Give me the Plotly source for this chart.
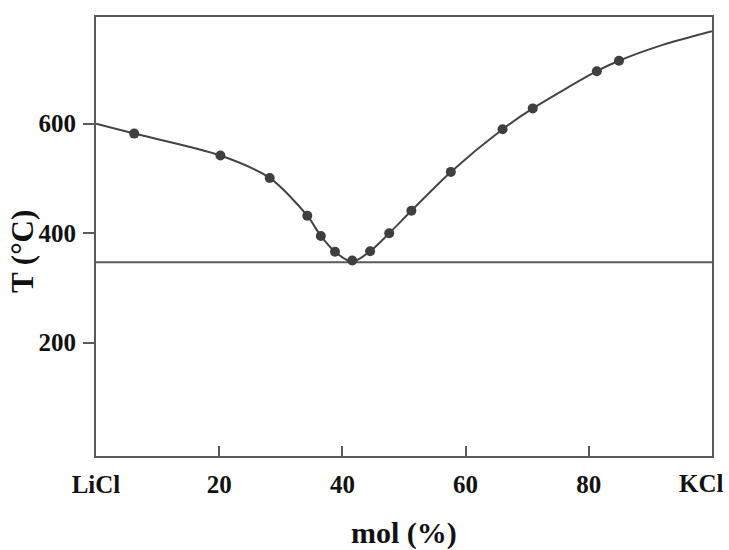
import plotly.graph_objects as go

# Measured liquidus points (mol % KCl, T in °C)
pts_x = [6.2, 20.2, 28.2, 34.3, 36.5, 38.8, 41.6, 44.5, 47.6, 51.2, 57.6, 66.0, 70.9, 81.3, 84.9]
pts_y = [582, 542, 501, 432, 395, 366, 350, 367, 400, 441, 512, 590, 628, 696, 715]

# Liquidus curve
curve_x = [0, 6.2, 20.2, 28.2, 34.3, 36.5, 38.8, 41.6, 44.5, 47.6, 51.2, 57.6, 66.0, 70.9, 81.3, 84.9, 92, 100]
curve_y = [600, 582, 542, 501, 432, 395, 366, 348, 367, 400, 441, 512, 590, 628, 696, 715, 744, 769]

# Eutectic temperature line
eutectic_x = [0, 100]
eutectic_y = [347, 347]

x_tickvals = [0, 20, 40, 60, 80, 100]
x_ticktext = ["LiCl", "20", "40", "60", "80", "KCl"]
y_tickvals = [200, 400, 600]

FONT = "Liberation Serif"
LINE = "#5a5a5a"
TXT = "#111111"

fig = go.Figure()
fig.add_trace(go.Scatter(x=eutectic_x, y=eutectic_y, mode="lines",
                         line=dict(color=LINE, width=2), hoverinfo="skip"))
fig.add_trace(go.Scatter(x=curve_x, y=curve_y, mode="lines",
                         line=dict(color="#444444", width=2, shape="spline", smoothing=0.8),
                         hoverinfo="skip"))
fig.add_trace(go.Scatter(x=pts_x, y=pts_y, mode="markers",
                         marker=dict(color="#3f3f3f", size=10, line=dict(width=0))))

pw, ph = 729 - 96 - 17, 550 - 17 - 94
tick_font = dict(family=FONT, size=25, color=TXT, weight="bold")

fig.update_layout(
    width=729, height=550,
    margin=dict(l=96, r=17, t=17, b=94),
    paper_bgcolor="white", plot_bgcolor="white",
    showlegend=False,
    font=dict(family=FONT, color=TXT),
    annotations=[
        dict(text="mol (%)", x=0.5, xref="paper", y=(550 - 94 - 533) / ph, yref="paper",
             showarrow=False, font=dict(family=FONT, size=30, color=TXT, weight="bold"),
             yanchor="middle"),
        dict(text="T (°C)", x=(22 - 96) / pw, xref="paper", y=(550 - 94 - 252) / ph, yref="paper",
             showarrow=False, textangle=-90,
             font=dict(family=FONT, size=31, color=TXT, weight="bold"),
             xanchor="center", yanchor="middle"),
        # last x tick label (would overflow the page edge if centred on its tick)
        dict(text=x_ticktext[-1], x=x_tickvals[-1], xref="x", y=(550 - 94 - 483) / ph, yref="paper",
             showarrow=False, font=tick_font, xanchor="right", xshift=14, yanchor="middle"),
    ],
)

fig.update_xaxes(range=[0, 100], tickvals=x_tickvals[:-1], ticktext=x_ticktext[:-1],
                 ticks="inside", ticklen=10, tickwidth=2, tickcolor=LINE,
                 showline=True, linecolor=LINE, linewidth=2, mirror=True,
                 showgrid=False, zeroline=False, ticklabelstandoff=5,
                 tickfont=tick_font)
fig.update_yaxes(range=[-7, 795], tickvals=y_tickvals,
                 ticks="outside", ticklen=11, tickwidth=2, tickcolor=LINE,
                 showline=True, linecolor=LINE, linewidth=2, mirror=True,
                 showgrid=False, zeroline=False, ticklabelstandoff=2,
                 tickfont=tick_font)

fig.write_html("out.html")
